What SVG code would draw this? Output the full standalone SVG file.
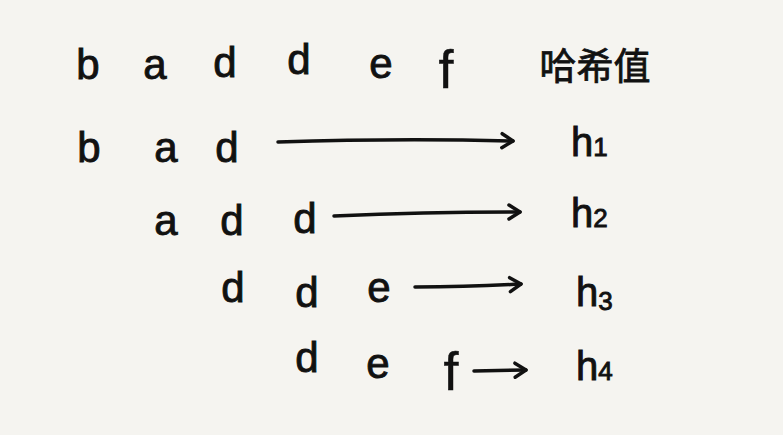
<svg xmlns="http://www.w3.org/2000/svg" width="783" height="435" viewBox="0 0 783 435">
<style>
.t{font-family:"Liberation Sans","DejaVu Sans",sans-serif;font-size:42px;fill:#111;stroke:#111;stroke-width:0.9;text-anchor:middle}
.f{font-size:54px;stroke-width:0.4}
.h{font-family:"Liberation Sans","DejaVu Sans",sans-serif;font-size:40px;fill:#111;stroke:#111;stroke-width:0.9}
.s{font-size:26px}
.cn{font-family:"Liberation Sans","Noto Sans CJK SC",sans-serif;font-size:37px;fill:#111;stroke:#111;stroke-width:0.8;text-anchor:middle}
.c{fill:none;stroke:#111;stroke-width:3.5;stroke-linecap:round;stroke-linejoin:round}
</style>
<defs>
<marker id="ah" viewBox="0 0 14 16" refX="12" refY="8" markerWidth="14" markerHeight="16" markerUnits="userSpaceOnUse" orient="auto" overflow="visible">
<path d="M1,1 L12,8 L1,15" fill="none" stroke="#111" stroke-width="3.5" stroke-linecap="round" stroke-linejoin="round"/>
</marker>
</defs>
<rect width="783" height="435" fill="#f5f4f0"/>
<g id="row1">
<text class="t" x="88" y="79">b</text>
<text class="t" x="155" y="79">a</text>
<text class="t" x="225" y="77">d</text>
<text class="t" x="299" y="74">d</text>
<text class="t" x="381" y="78">e</text>
<text class="t f" x="446" y="88">f</text>
<text class="cn" x="595" y="80">哈希值</text>
</g>
<g id="row2">
<text class="t" x="89" y="162">b</text>
<text class="t" x="166" y="162">a</text>
<text class="t" x="227" y="162">d</text>
<text class="h" x="571" y="156">h<tspan class="s">1</tspan></text>
</g>
<g id="row3">
<text class="t" x="166" y="235">a</text>
<text class="t" x="232" y="235">d</text>
<text class="t" x="305" y="233">d</text>
<text class="h" x="571" y="227">h<tspan class="s">2</tspan></text>
</g>
<g id="row4">
<text class="t" x="233" y="302">d</text>
<text class="t" x="307" y="307">d</text>
<text class="t" x="379" y="302">e</text>
<text class="h" x="576" y="306">h<tspan class="s" dy="4">3</tspan></text>
</g>
<g id="row5">
<text class="t" x="307" y="372">d</text>
<text class="t" x="378" y="378">e</text>
<text class="t f" x="451" y="390">f</text>
<text class="h" x="576" y="380">h<tspan class="s">4</tspan></text>
</g>
<g id="connectors">
<path class="c" d="M278,142 Q400,138 513,141" marker-end="url(#ah)"/>
<path class="c" d="M334,216 Q430,212 520,212" marker-end="url(#ah)"/>
<path class="c" d="M415,287 Q470,287 521,284" marker-end="url(#ah)"/>
<path class="c" d="M474,371 L526,370" marker-end="url(#ah)"/>
</g>
</svg>
